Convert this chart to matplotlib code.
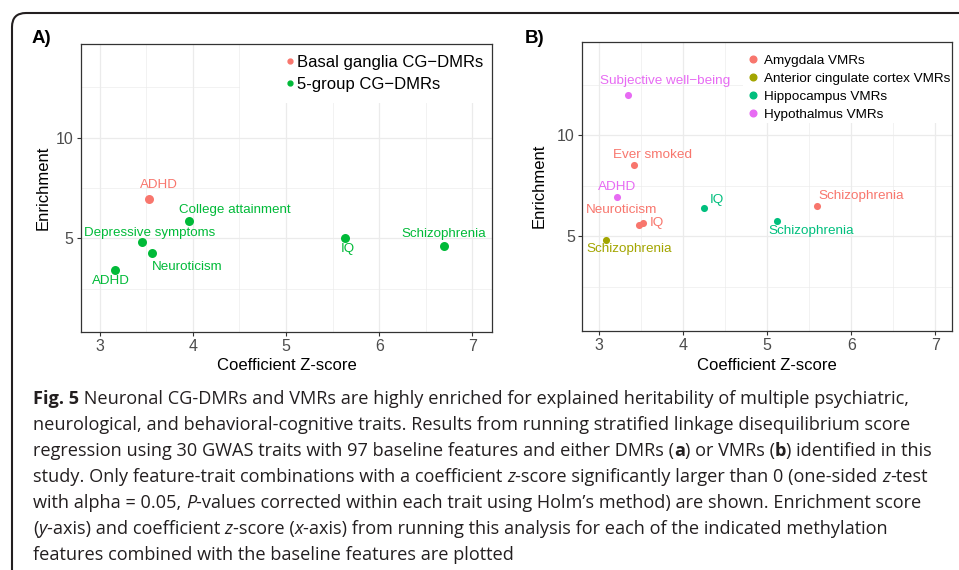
import matplotlib
matplotlib.use("Agg")
import matplotlib.pyplot as plt
from matplotlib.patches import FancyBboxPatch, Rectangle
from matplotlib.lines import Line2D
from matplotlib.transforms import IdentityTransform

plt.rcParams['font.family'] = ['Liberation Sans', 'DejaVu Sans']

# panel A: CG-DMRs
basal_x = [3.53]
basal_y = [6.97]
basal_labels = ["ADHD"]
group5_x = [3.96, 3.45, 3.56, 3.17, 5.63, 6.69]
group5_y = [5.88, 4.82, 4.27, 3.41, 5.00, 4.64]
group5_labels = ["College attainment", "Depressive symptoms", "Neuroticism", "ADHD", "IQ", "Schizophrenia"]

# panel B: VMRs
amyg_x = [3.42, 3.47, 3.52, 5.59]
amyg_y = [8.55, 5.57, 5.64, 6.49]
amyg_labels = ["Ever smoked", "Neuroticism", "IQ", "Schizophrenia"]
acc_x = [3.08]
acc_y = [4.83]
acc_labels = ["Schizophrenia"]
hippo_x = [4.25, 5.12]
hippo_y = [6.40, 5.76]
hippo_labels = ["IQ", "Schizophrenia"]
hypo_x = [3.34, 3.21]
hypo_y = [12.01, 6.93]
hypo_labels = ["Subjective well\u2212being", "ADHD"]

# label offsets in pixels (dx right, dy down)
basal_off = [(9.7, -13.4)]
group5_off = [(46, -10.7), (8, -9), (35, 14), (-5, 11), (3, 11), (0, -11.7)]
amyg_off = [(18, -9.7), (-16.7, -14.7), (14, 0), (44, -10.7)]
acc_off = [(23.7, 9.7)]
hippo_off = [(12.3, -7.7), (34, 9.7)]
hypo_off = [(37, -14), (0, -10.7)]

RED = "#F8766D"
GREEN_A = "#00BA38"
OLIVE = "#A3A500"
TEAL = "#00BF7D"
PINK = "#E76BF3"

W, H = 959, 570
fig = plt.figure(figsize=(W / 100, H / 100), dpi=100)


def px_axes(l, t, r, b):
    return fig.add_axes([l / W, 1 - b / H, (r - l) / W, (b - t) / H])


def style_axes(ax):
    ax.set_xlim(2.80, 7.21)
    ax.set_ylim(0.35, 14.65)
    ax.set_xticks([3, 4, 5, 6, 7])
    ax.set_yticks([5, 10])
    ax.set_xticks([3.5, 4.5, 5.5, 6.5], minor=True)
    ax.set_yticks([2.5, 7.5, 12.5], minor=True)
    ax.grid(which='major', color='#EBEBEB', linewidth=0.9, zorder=0)
    ax.grid(which='minor', color='#EBEBEB', linewidth=0.45, zorder=0)
    ax.set_axisbelow(True)
    for s in ax.spines.values():
        s.set_color('#333333')
        s.set_linewidth(0.9)
    ax.tick_params(which='major', length=2.8, width=0.8, color='#333333',
                   labelcolor='#4D4D4D', labelsize=11.5, pad=2.5)
    ax.tick_params(which='minor', length=0)


def plot_group(ax, xs, ys, labels, offs, color, size, fsize):
    ax.scatter(xs, ys, s=size, color=color, zorder=3, linewidths=0)
    for x, y, lab, (dx, dy) in zip(xs, ys, labels, offs):
        ax.annotate(lab, (x, y), xytext=(dx * 0.72, -dy * 0.72), textcoords='offset points',
                    ha='center', va='center', color=color, fontsize=fsize, zorder=4)


# ---- panel A
axA = px_axes(81, 44, 492, 332)
style_axes(axA)
# white legend background hides the grid behind it
axA.add_patch(Rectangle((0.387, 0.795), 0.613, 0.205, transform=axA.transAxes,
                        facecolor='white', edgecolor='none', zorder=1))
plot_group(axA, basal_x, basal_y, basal_labels, basal_off, RED, 42, 9.6)
plot_group(axA, group5_x, group5_y, group5_labels, group5_off, GREEN_A, 42, 9.6)
hA = [Line2D([], [], marker='o', linestyle='', color=c, markersize=3.5) for c in (RED, GREEN_A)]
axA.legend(hA, ["Basal ganglia CG\u2212DMRs", "5-group CG\u2212DMRs"], loc='upper left',
           bbox_to_anchor=(0.4998, 0.962), frameon=False, fontsize=12, borderpad=0,
           handlelength=0.4, handletextpad=0.22, labelspacing=0.44, borderaxespad=0)
axA.set_xlabel("Coefficient Z-score", fontsize=12, va='center')
axA.set_ylabel("Enrichment", fontsize=12, va='center')
axA.xaxis.set_label_coords(0.5, -0.1146)
axA.yaxis.set_label_coords(-0.0917, 0.5)

# ---- panel B
axB = px_axes(582.3, 41.7, 952.3, 330.7)
style_axes(axB)
axB.set_xlim(2.80, 7.20)
axB.set_ylim(0.33, 14.63)
axB.add_patch(Rectangle((0.434, 0.719), 0.566, 0.281, transform=axB.transAxes,
                        facecolor='white', edgecolor='none', zorder=1))
plot_group(axB, amyg_x, amyg_y, amyg_labels, amyg_off, RED, 26, 9.7)
plot_group(axB, acc_x, acc_y, acc_labels, acc_off, OLIVE, 26, 9.7)
plot_group(axB, hippo_x, hippo_y, hippo_labels, hippo_off, TEAL, 26, 9.7)
plot_group(axB, hypo_x, hypo_y, hypo_labels, hypo_off, PINK, 26, 9.7)
hB = [Line2D([], [], marker='o', linestyle='', color=c, markersize=4.8) for c in (RED, OLIVE, TEAL, PINK)]
axB.legend(hB, ["Amygdala VMRs", "Anterior cingulate cortex VMRs", "Hippocampus VMRs", "Hypothalmus VMRs"],
           loc='upper left', bbox_to_anchor=(0.4514, 0.956), frameon=False, fontsize=9.7, borderpad=0,
           handlelength=0.5, handletextpad=0.59, labelspacing=0.41, borderaxespad=0)
axB.set_xlabel("Coefficient Z-score", fontsize=12, va='center')
axB.set_ylabel("Enrichment", fontsize=12, va='center')
axB.xaxis.set_label_coords(0.5, -0.119)
axB.yaxis.set_label_coords(-0.116, 0.5)

# panel letters
fig.text(41.7 / W, 1 - 38.3 / H, "A)", fontsize=13.5, fontweight='bold', ha='center', va='center')
fig.text(535 / W, 1 - 38.3 / H, "B)", fontsize=13.5, fontweight='bold', ha='center', va='center')

# outer rounded frame
frame = FancyBboxPatch((12, -60), 1100, 557 + 60, boxstyle="round,pad=0,rounding_size=14",
                       transform=IdentityTransform(), facecolor='none', edgecolor='#231F20', linewidth=1.5)
fig.add_artist(frame)

# caption, drawn piece by piece to mix bold and italic
caption = [
    [("Fig. 5", 'bold', 'normal'), (" Neuronal CG-DMRs and VMRs are highly enriched for explained heritability of multiple psychiatric,", 'normal', 'normal')],
    [("neurological, and behavioral-cognitive traits. Results from running stratified linkage disequilibrium score", 'normal', 'normal')],
    [("regression using 30 GWAS traits with 97 baseline features and either DMRs (", 'normal', 'normal'), ("a", 'bold', 'normal'),
     (") or VMRs (", 'normal', 'normal'), ("b", 'bold', 'normal'), (") identified in this", 'normal', 'normal')],
    [("study. Only feature-trait combinations with a coefficient ", 'normal', 'normal'), ("z", 'normal', 'italic'),
     ("-score significantly larger than 0 (one-sided ", 'normal', 'normal'), ("z", 'normal', 'italic'), ("-test", 'normal', 'normal')],
    [("with alpha = 0.05, ", 'normal', 'normal'), ("P", 'normal', 'italic'),
     ("-values corrected within each trait using Holm\u2019s method) are shown. Enrichment score", 'normal', 'normal')],
    [("(", 'normal', 'normal'), ("y", 'normal', 'italic'), ("-axis) and coefficient ", 'normal', 'normal'), ("z", 'normal', 'italic'),
     ("-score (", 'normal', 'normal'), ("x", 'normal', 'italic'),
     ("-axis) from running this analysis for each of the indicated methylation", 'normal', 'normal')],
    [("features combined with the baseline features are plotted", 'normal', 'normal')],
]
cap_size = 13.1
renderer = fig.canvas.get_renderer()
for i, line in enumerate(caption):
    xpx = 33
    ypx = 397 + i * 26
    for txt, wt, st in line:
        t = fig.text(xpx / W, 1 - ypx / H, txt, fontsize=cap_size, fontweight=wt, fontstyle=st,
                     family=['Open Sans', 'DejaVu Sans'], color='#231F20', ha='left', va='center_baseline')
        bb = t.get_window_extent(renderer)
        xpx += bb.width

fig.savefig("out.png", dpi=100)
